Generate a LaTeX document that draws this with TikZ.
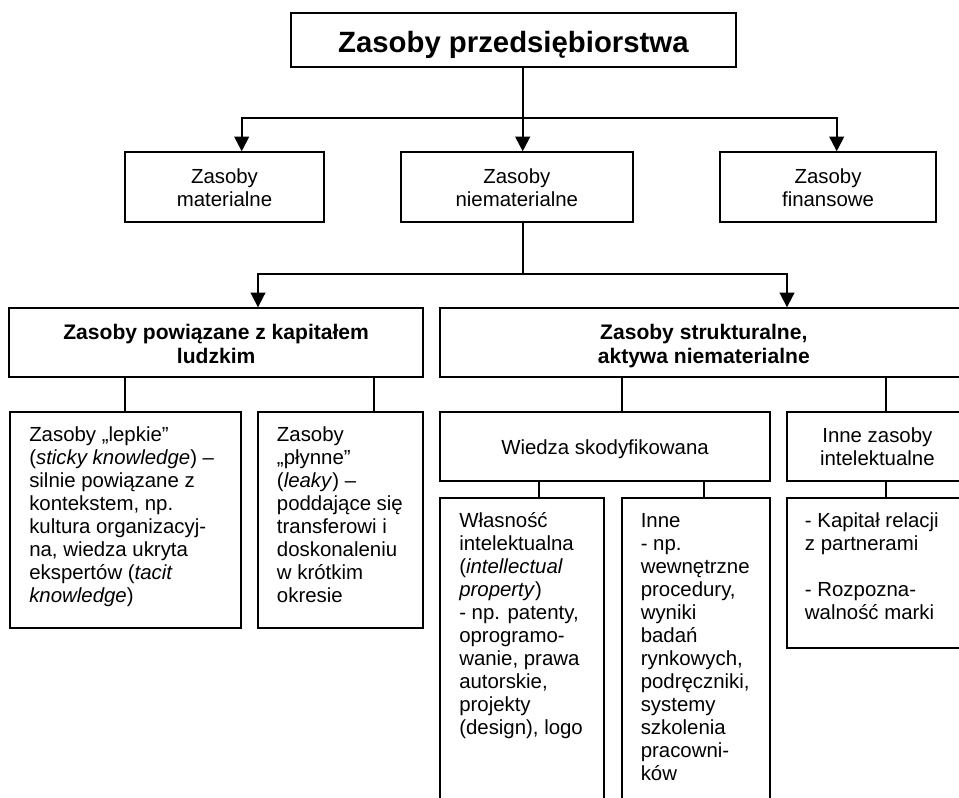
\documentclass[tikz,border=0pt]{standalone}
\usepackage{fontspec}
\setmainfont{Liberation Sans}
\usetikzlibrary{arrows.meta,fit,calc}
\begin{document}
\begin{tikzpicture}[x=0.75pt,y=-0.75pt,
  box/.style={draw=black, line width=1.5pt, inner sep=0pt},
  link/.style={line width=1.5pt},
  arrow/.style={link, -{Triangle[length=11pt,width=11pt]}},
  body/.style={inner sep=0pt, font=\fontsize{15.3}{17.25}\selectfont},
  bodyc/.style={body, align=center, anchor=base},
  bodyl/.style={body, align=left, anchor=base west},
  head/.style={inner sep=0pt, align=center, anchor=base,
    font=\bfseries\fontsize{15.8}{17.25}\selectfont},
  title/.style={inner sep=0pt, anchor=base,
    font=\bfseries\fontsize{22}{26}\selectfont}]
\useasboundingbox (0,0) rectangle (959,798);
\clip (0,0) rectangle (959,798);

% boxes
\node[box, fit={(290.7,13.3) (736,66.7)}] (top) {};
\node[box, fit={(125,152.3) (324,222.3)}] (mat) {};
\node[box, fit={(401,152.3) (632.7,222.3)}] (niem) {};
\node[box, fit={(720.3,152.3) (935.7,222.3)}] (fin) {};
\node[box, fit={(9.3,308.3) (423,376.7)}] (ludz) {};
\node[box, fit={(439.6,308.3) (968,376.7)}] (struk) {};
\node[box, fit={(10,412.3) (240.7,628.3)}] (lepk) {};
\node[box, fit={(257.7,412.3) (423,628.3)}] (plyn) {};
\node[box, fit={(440,412.3) (770,481)}] (wied) {};
\node[box, fit={(786.7,412.3) (968,481)}] (inza) {};
\node[box, fit={(440,498.3) (604.3,830)}] (wlas) {};
\node[box, fit={(621.5,498.3) (770,830)}] (inne) {};
\node[box, fit={(786.7,498.3) (968,648.3)}] (kapi) {};

% texts (multi-line nodes are anchored at the baseline of their last line)
\node[title] (topT) at ($(top.north)+(0,40)$) {Zasoby przedsiębiorstwa};
\node[bodyc] (matT) at ($(mat.north)+(0,55.7)$) {Zasoby\\materialne};
\node[bodyc] (niemT) at ($(niem.north)+(0,55.7)$) {Zasoby\\niematerialne};
\node[bodyc] (finT) at ($(fin.north)+(0,55.7)$) {Zasoby\\finansowe};
\node[head] (ludzT) at ($(ludz.north)+(0,55.7)$) {Zasoby powiązane z kapitałem\\ludzkim};
\node[head] (strukT) at ($(struk.north)+(0,55.7)$) {Zasoby strukturalne,\\aktywa niematerialne};
\node[bodyc] (wiedT) at ($(wied.north)+(0,42.7)$) {Wiedza skodyfikowana};
\node[bodyc] (inzaT) at ($(inza.north)+(0,54)$) {Inne zasoby\\intelektualne};
\node[bodyl] (lepkT) at ($(lepk.north west)+(20,191.2)$) {Zasoby „lepkie”\\(\textit{sticky knowledge}) –\\silnie powiązane z\\kontekstem, np.\\kultura organizacyj-\\na, wiedza ukryta\\ekspertów (\textit{tacit}\\\textit{knowledge})};
\node[bodyl] (plynT) at ($(plyn.north west)+(20,191.2)$) {Zasoby\\„płynne”\\(\textit{leaky}) –\\poddające się\\transferowi i\\doskonaleniu\\w krótkim\\okresie};
\node[bodyl] (wlasT) at ($(wlas.north west)+(20,237)$) {Własność\\intelektualna\\(\textit{intellectual}\\\textit{property})\\- np. patenty,\\oprogramo-\\wanie, prawa\\autorskie,\\projekty\\(design), logo};
\node[bodyl] (inneT) at ($(inne.north west)+(20,283)$) {Inne\\- np.\\wewnętrzne\\procedury,\\wyniki\\badań\\rynkowych,\\podręczniki,\\systemy\\szkolenia\\pracowni-\\ków};
\node[bodyl] (kapiT) at ($(kapi.north west)+(19,122)$) {- Kapitał relacji\\z partnerami\\[17.25pt]- Rozpozna-\\walność marki};

% connector positions
\coordinate (j1) at (522.7,117.7);
\coordinate (j2) at (522.7,273.7);
\coordinate (xmat) at (241.7,0);
\coordinate (xfin) at (836.7,0);
\coordinate (xludz) at (258,0);
\coordinate (xstruk) at (787,0);
\coordinate (xlepk) at (125,0);
\coordinate (xplyn) at (374,0);
\coordinate (xwied) at (622,0);
\coordinate (xinza) at (885.7,0);
\coordinate (xwlas) at (539,0);
\coordinate (xinne) at (704,0);

% connectors
\draw[link] (top.south -| j1) -- (j1);
\draw[arrow] (j1) -- (niem.north -| j1);
\draw[arrow] (j1) -| (mat.north -| xmat);
\draw[arrow] (j1) -| (fin.north -| xfin);
\draw[link] (niem.south -| j2) -- (j2);
\draw[arrow] (j2) -| (ludz.north -| xludz);
\draw[arrow] (j2) -| (struk.north -| xstruk);
\draw[link] (ludz.south -| xlepk) -- (lepk.north -| xlepk);
\draw[link] (ludz.south -| xplyn) -- (plyn.north -| xplyn);
\draw[link] (struk.south -| xwied) -- (wied.north -| xwied);
\draw[link] (struk.south -| xinza) -- (inza.north -| xinza);
\draw[link] (wied.south -| xwlas) -- (wlas.north -| xwlas);
\draw[link] (wied.south -| xinne) -- (inne.north -| xinne);
\draw[link] (inza.south -| xinza) -- (kapi.north -| xinza);
\end{tikzpicture}
\end{document}
